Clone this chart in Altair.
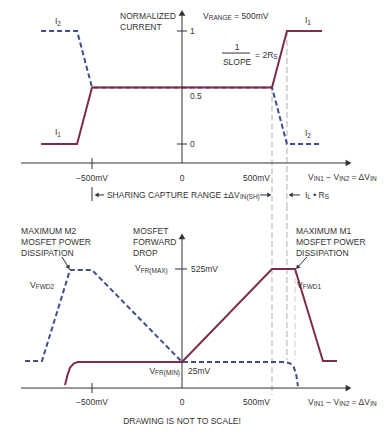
import altair as alt
import pandas as pd

# ---------------- data ----------------
# top panel: normalized current vs dVIN (mV)
i_x = [-783, -583, -500, 500, 583, 778]
i1_y = [0, 0, 0.5, 0.5, 1, 1]
i2_y = [1, 1, 0.5, 0.5, 0, 0]

# bottom panel: MOSFET forward drop (mV) vs dVIN (mV)
vfwd1_x = [-650, -636, -622, -600, -578, 0, 500, 628, 783, 861]
vfwd1_y = [-99, -45, -5, 18, 25, 25, 525, 525, 30, 30]
vfwd2_x = [-872, -778, -622, -500, 0, 572, 600, 620, 634, 644]
vfwd2_y = [30, 30, 520, 520, 25, 25, 18, 0, -40, -105]

x_ticks = [-500, 0, 500]
x_tick_labels = ["\u2212500mV", "0", "500mV"]
top_y_ticks = [1, 0.5, 0]
top_y_tick_labels = ["1", "0.5", "0"]
bot_y_ticks = [525, 25]
bot_y_tick_labels = ["525mV", "25mV"]

# ---------------- layout / style ----------------
FONT = "Liberation Sans, Arial, sans-serif"
MAROON = "#7d2c4b"
NAVY = "#404c8c"
GRAY = "#b0b0b0"
INK = "#333333"
FS = 8.5
SUB = 6.5

W, H1, H2 = 376, 197, 218
X_DOMAIN = [-966.7, 1122.2]
Y1_DOMAIN = [-0.5398, 1.2035]
Y2_DOMAIN = [-303.0, 869.1]
PX_X = 0.18          # px per mV (x)
PX_Y1 = 113.0        # px per unit (top y)
PX_Y2 = 0.186        # px per mV (bottom y)

AW = {}
for c in "ABEKPSVXY":
    AW[c] = 667
for c in "CDHNRU":
    AW[c] = 722
for c in "GOQ":
    AW[c] = 778
for c in "FTZ":
    AW[c] = 611
AW.update({"I": 278, "J": 500, "L": 556, "M": 833, "W": 944, " ": 278, ".": 278,
           ",": 278, "(": 333, ")": 333, "\u2212": 584, "=": 584, "\u00b1": 584,
           "\u0394": 668, "\u2022": 350, "m": 833, "!": 278})
for c in "0123456789":
    AW[c] = 556


def tw(s, size):
    return sum(AW.get(ch, 520) for ch in s) * size / 1000.0


def Xenc():
    return alt.X("x:Q", scale=alt.Scale(domain=X_DOMAIN, nice=False, zero=False), axis=None)


def Yenc(dom):
    return alt.Y("y:Q", scale=alt.Scale(domain=dom, nice=False, zero=False), axis=None)


def line(xs, ys, color, dom, dash=None, width=2.0):
    df = pd.DataFrame({"x": xs, "y": ys, "i": list(range(len(xs)))})
    kw = dict(color=color, strokeWidth=width)
    if dash:
        kw["strokeDash"] = dash
    return alt.Chart(df).mark_line(**kw).encode(x=Xenc(), y=Yenc(dom), order="i:O")


def segs(rows, color, dom, width=1.0, dash=None):
    df = pd.DataFrame(rows, columns=["x", "y", "x2", "y2"])
    kw = dict(color=color, strokeWidth=width)
    if dash:
        kw["strokeDash"] = dash
    return alt.Chart(df).mark_rule(**kw).encode(x=Xenc(), y=Yenc(dom), x2="x2:Q", y2="y2:Q")


def tris(rows, dom):
    df = pd.DataFrame(rows, columns=["x", "y", "a", "s"])
    return alt.Chart(df).mark_point(shape="triangle-up", filled=True, color=INK,
                                    opacity=1, strokeWidth=0).encode(
        x=Xenc(), y=Yenc(dom),
        angle=alt.Angle("a:Q", scale=None),
        size=alt.Size("s:Q", scale=None))


def text_rows(specs, px_y):
    rows = []
    for x, y, parts, align in specs:
        if len(parts) == 1 and parts[0][1] == "n":
            rows.append({"x": x, "y": y, "t": parts[0][0], "size": FS, "align": align})
            continue
        sizes = [SUB if k == "s" else FS for _, k in parts]
        total = sum(tw(p, s) for (p, _), s in zip(parts, sizes))
        off = 0.0 if align == "left" else (-total / 2 if align == "center" else -total)
        for (p, k), s in zip(parts, sizes):
            lead = len(p) - len(p.lstrip(" "))
            core = p.strip(" ")
            trail = len(p) - lead - len(core)
            off += tw(" " * lead, s)
            rows.append({"x": x + off / PX_X,
                         "y": y - (2.5 / px_y if k == "s" else 0.0),
                         "t": core, "size": s, "align": "left"})
            off += tw(core, s) + tw(" " * trail, s)
    return pd.DataFrame(rows)


def texts(specs, dom, px_y):
    df = text_rows(specs, px_y)
    layers = []
    for a in ["left", "center", "right"]:
        sub = df[df["align"] == a]
        if len(sub) == 0:
            continue
        layers.append(alt.Chart(sub).mark_text(align=a, baseline="middle", font=FONT,
                                               color=INK).encode(
            x=Xenc(), y=Yenc(dom), text="t:N", size=alt.Size("size:Q", scale=None)))
    return layers


VIN = [("V", "n"), ("IN1", "s"), (" \u2212 V", "n"), ("IN2", "s"), (" = \u0394V", "n"), ("IN", "s")]

# ---------------- top panel ----------------
top_specs = [
    (-344, 1.133, [("NORMALIZED", "n")], "left"),
    (-344, 1.035, [("CURRENT", "n")], "left"),
    (117, 1.133, [("V", "n"), ("RANGE", "s"), (" = 500mV", "n")], "left"),
    (683, 1.097, [("I", "n"), ("1", "s")], "left"),
    (-706, 1.088, [("I", "n"), ("2", "s")], "left"),
    (-706, 0.106, [("I", "n"), ("1", "s")], "left"),
    (683, 0.097, [("I", "n"), ("2", "s")], "left"),
    (306, 0.858, [("1", "n")], "center"),
    (306, 0.726, [("SLOPE", "n")], "center"),
    (406, 0.788, [("= 2R", "n"), ("S", "s")], "left"),
    (700, -0.29, VIN, "left"),
    (-417, -0.451, [("SHARING CAPTURE RANGE \u00b1\u0394V", "n"), ("IN(SH)", "s")], "left"),
    (683, -0.451, [("I", "n"), ("L", "s"), (" \u2022 R", "n"), ("S", "s")], "left"),
]
for v, lab in zip(top_y_ticks, top_y_tick_labels):
    top_specs.append((44, v - (0.075 if v == 0.5 else 0.0), [(lab, "n")], "left"))
for v, lab in zip(x_ticks, x_tick_labels):
    top_specs.append((v - (11 if v == 500 else 0), -0.30, [(lab, "n")],
                      "right" if v == 500 else "center"))

top_layers = [
    segs([(500, 0.5, 500, Y1_DOMAIN[0]), (583, 1.0, 583, Y1_DOMAIN[0])], GRAY, Y1_DOMAIN,
         width=1.0, dash=[6, 3]),
    line(i_x, i2_y, NAVY, Y1_DOMAIN, dash=[5, 3]),
    line(i_x, i1_y, MAROON, Y1_DOMAIN),
    segs([(-894, -0.168, 915, -0.168), (0, -0.168, 0, 1.14),
          (-28, 1, 28, 1), (-28, 0, 28, 0), (-500, -0.124, -500, -0.221),
          (-500, -0.381, -500, -0.505), (-472, -0.451, -433, -0.451),
          (433, -0.451, 478, -0.451), (606, -0.451, 656, -0.451),
          (222, 0.805, 378, 0.805)], INK, Y1_DOMAIN, width=1.0),
    tris([(925, -0.168, 90, 45), (0, 1.16, 0, 45), (-474, -0.451, 270, 22),
          (485, -0.451, 90, 22), (604, -0.451, 270, 22)], Y1_DOMAIN),
] + texts(top_specs, Y1_DOMAIN, PX_Y1)

top = alt.layer(*top_layers).properties(width=W, height=H1)

# ---------------- bottom panel ----------------
bot_specs = [
    (-894, 729, [("MAXIMUM M2", "n")], "left"),
    (-894, 670, [("MOSFET POWER", "n")], "left"),
    (-894, 611, [("DISSIPATION", "n")], "left"),
    (-272, 729, [("MOSFET", "n")], "left"),
    (-272, 670, [("FORWARD", "n")], "left"),
    (-272, 611, [("DROP", "n")], "left"),
    (-261, 530, [("V", "n"), ("FR(MAX)", "s")], "left"),
    (-844, 439, [("V", "n"), ("FWD2", "s")], "left"),
    (-11, -23, [("V", "n"), ("FR(MIN)", "s")], "right"),
    (633, 729, [("MAXIMUM M1", "n")], "left"),
    (633, 670, [("MOSFET POWER", "n")], "left"),
    (633, 611, [("DISSIPATION", "n")], "left"),
    (639, 439, [("V", "n"), ("FWD1", "s")], "left"),
    (700, -190, VIN, "left"),
    (0, -292, [("DRAWING IS NOT TO SCALE!", "n")], "center"),
]
for v, lab in zip(bot_y_ticks, bot_y_tick_labels):
    bot_specs.append((50 if v == 525 else 33, v if v == 525 else v - 48, [(lab, "n")], "left"))
for v, lab in zip(x_ticks, x_tick_labels):
    bot_specs.append((v - (11 if v == 500 else 0), -190, [(lab, "n")],
                      "right" if v == 500 else "center"))

bot_layers = [
    segs([(500, Y2_DOMAIN[1], 500, -152), (583, Y2_DOMAIN[1], 583, 36)], GRAY, Y2_DOMAIN,
         width=1.0, dash=[6, 3]),
    segs([(628, 525, 628, 36)], "#cfcfcf", Y2_DOMAIN, width=1.0, dash=[6, 3]),
    line(vfwd2_x, vfwd2_y, NAVY, Y2_DOMAIN, dash=[5, 3]),
    line(vfwd1_x, vfwd1_y, MAROON, Y2_DOMAIN),
    segs([(-894, -115, 915, -115), (0, -115, 0, 692),
          (-39, 525, 28, 525), (-500, -88, -500, -142),
          (-667, 590, -632, 536), (694, 590, 644, 536)], INK, Y2_DOMAIN, width=1.0),
    tris([(925, -115, 90, 45), (0, 700, 0, 45),
          (-630, 533, 147, 22), (641, 533, 222, 22)], Y2_DOMAIN),
] + texts(bot_specs, Y2_DOMAIN, PX_Y2)

bottom = alt.layer(*bot_layers).properties(width=W, height=H2)

chart = alt.vconcat(top, bottom, spacing=0, bounds="flush").properties(
    padding=0, background="white"
).configure_view(stroke=None)

chart.save("out.html", embed_options={"renderer": "svg", "actions": False})
